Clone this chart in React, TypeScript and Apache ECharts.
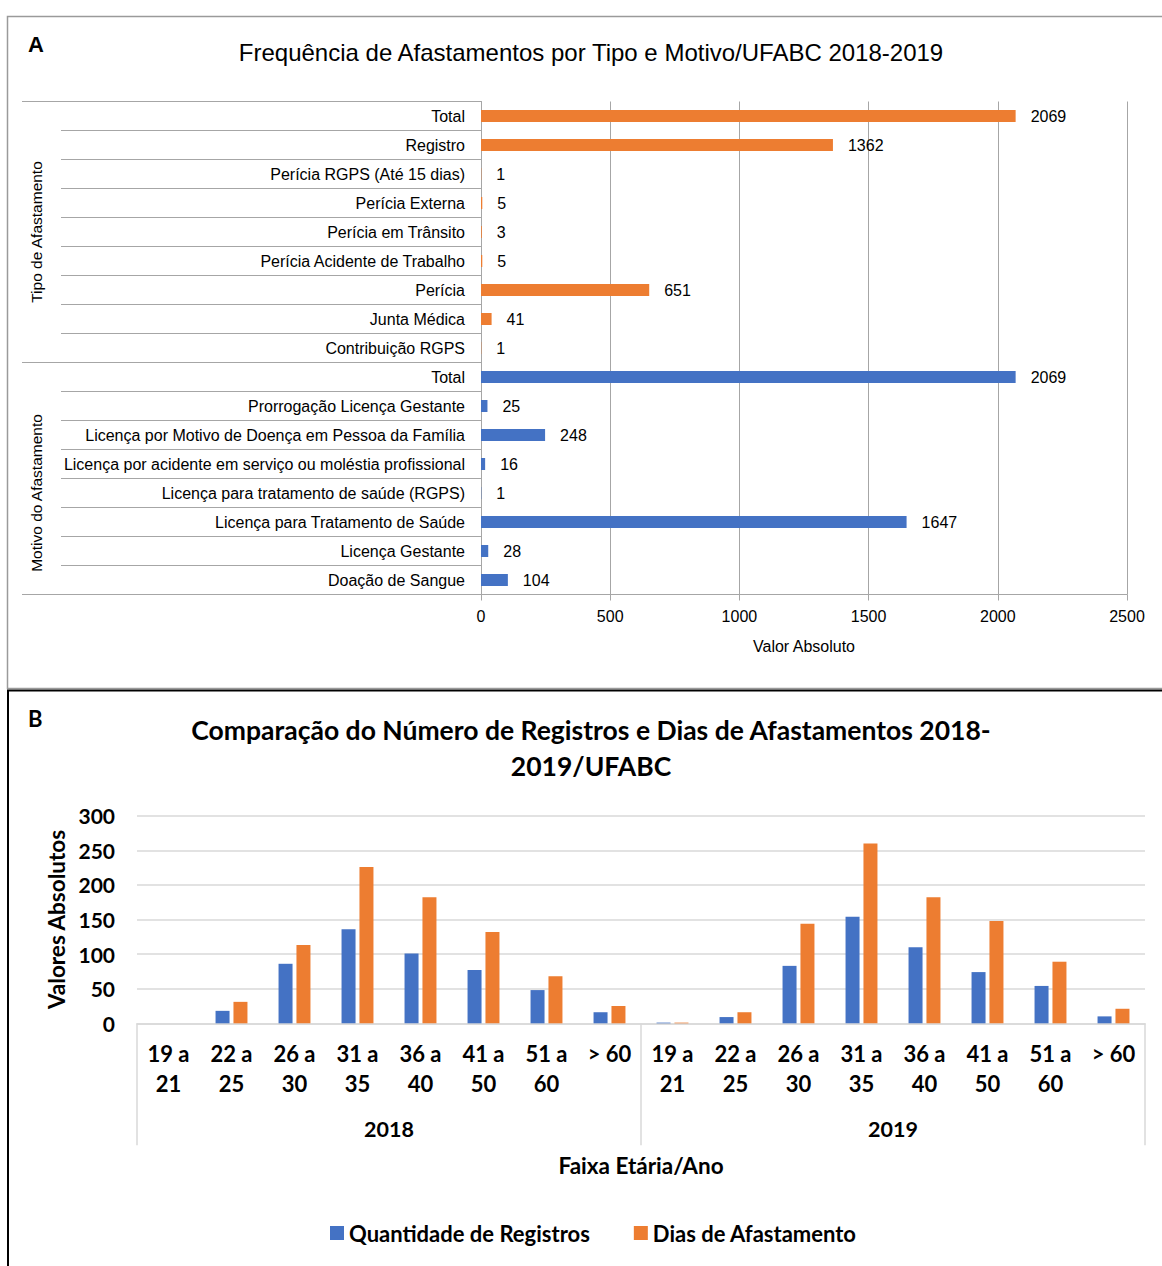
import React, { useEffect, useRef } from "react";
import * as echarts from "echarts";

// Panel A data
const tipoCats = [
  "Total",
  "Registro",
  "Perícia RGPS (Até 15 dias)",
  "Perícia Externa",
  "Perícia em Trânsito",
  "Perícia Acidente de Trabalho",
  "Perícia",
  "Junta Médica",
  "Contribuição RGPS",
];
const tipoValues = [2069, 1362, 1, 5, 3, 5, 651, 41, 1];
const motivoCats = [
  "Total",
  "Prorrogação Licença Gestante",
  "Licença por Motivo de Doença em Pessoa da Família",
  "Licença por acidente em serviço ou moléstia profissional",
  "Licença para tratamento de saúde (RGPS)",
  "Licença para Tratamento de Saúde",
  "Licença Gestante",
  "Doação de Sangue",
];
const motivoValues = [2069, 25, 248, 16, 1, 1647, 28, 104];
const groupNames = ["Tipo de Afastamento", "Motivo do Afastamento"];
const valueTicksA = [0, 500, 1000, 1500, 2000, 2500];

// Panel B data
const ageBands = ["19 a\n21", "22 a\n25", "26 a\n30", "31 a\n35", "36 a\n40", "41 a\n50", "51 a\n60", "> 60"];
const years = ["2018", "2019"];
const registros2018 = [0, 18, 86, 136, 101, 77, 48, 16];
const dias2018 = [0, 31, 113, 226, 182, 132, 68, 25];
const registros2019 = [1, 9, 83, 154, 110, 74, 54, 10];
const dias2019 = [1, 16, 144, 260, 182, 148, 89, 21];
const valueTicksB = [0, 50, 100, 150, 200, 250, 300];

const ORANGE = "#ED7D31";
const BLUE = "#4472C4";
const ARIAL = "Liberation Sans, Arial, sans-serif";
const CAL = "Lato, Carlito, Calibri, sans-serif";

export default function App() {
  const ref = useRef<HTMLDivElement>(null);
  useEffect(() => {
    if (!ref.current) return;
    const chart = echarts.init(ref.current, undefined, { renderer: "svg" });

    const catsA = [...tipoCats, ...motivoCats];
    const nT = tipoCats.length;
    const orangeData = catsA.map((_, i) => (i < nT ? tipoValues[i] : "-"));
    const blueData = catsA.map((_, i) => (i >= nT ? motivoValues[i - nT] : "-"));
    const groupLabelIdx = [Math.floor((nT - 1) / 2), nT + Math.ceil((motivoCats.length - 1) / 2)];

    const catsB = [...ageBands, ...ageBands];
    const regB = [...registros2018, ...registros2019];
    const diasB = [...dias2018, ...dias2019];

    const gridLineA = "#a6a6a6";
    const gridLineB = "#d9d9d9";

    chart.setOption({
      animation: false,
      backgroundColor: "#fff",
      title: [
        {
          text: "Frequência de Afastamentos por Tipo e Motivo/UFABC 2018-2019",
          left: 591,
          top: 40,
          padding: 0,
          textAlign: "center",
          textStyle: { fontFamily: ARIAL, fontSize: 24, fontWeight: "normal", color: "#000" },
        },
        {
          text: "A",
          left: 28,
          top: 33,
          padding: 0,
          textStyle: { fontFamily: ARIAL, fontSize: 22, fontWeight: "bold", color: "#000" },
        },
        {
          text: "Comparação do Número de Registros e Dias de Afastamentos 2018-\n2019/UFABC",
          left: 591,
          top: 712,
          padding: 0,
          textAlign: "center",
          textStyle: { fontFamily: CAL, fontSize: 26.5, fontWeight: "bold", color: "#000", lineHeight: 36 },
        },
        {
          text: "B",
          left: 28,
          top: 707,
          padding: 0,
          textStyle: { fontFamily: CAL, fontSize: 22, fontWeight: "bold", color: "#000" },
        },
      ],
      legend: {
        data: ["Quantidade de Registros", "Dias de Afastamento"],
        left: 330,
        top: 1222,
        padding: 0,
        icon: "rect",
        itemWidth: 14,
        itemHeight: 14,
        itemGap: 44,
        textStyle: { fontFamily: CAL, fontSize: 22, fontWeight: "bold", color: "#000" },
      },
      grid: [
        { left: 481, top: 101.5, width: 646, height: 493, outerBoundsMode: "none", containLabel: false },
        { left: 137, top: 815.7, width: 1008, height: 207.6, outerBoundsMode: "none", containLabel: false },
      ],
      xAxis: [
        {
          type: "value",
          gridIndex: 0,
          min: valueTicksA[0],
          max: valueTicksA[valueTicksA.length - 1],
          interval: valueTicksA[1] - valueTicksA[0],
          position: "bottom",
          name: "Valor Absoluto",
          nameLocation: "middle",
          nameGap: 44,
          nameTextStyle: { fontFamily: ARIAL, fontSize: 16, color: "#000" },
          axisLine: { show: true, lineStyle: { color: gridLineA, width: 1 } },
          axisTick: { show: true, length: 6, lineStyle: { color: gridLineA } },
          axisLabel: {
            margin: 14,
            fontFamily: ARIAL,
            fontSize: 16,
            color: "#000",
            formatter: (v: number) => String(v),
          },
          splitLine: { show: true, lineStyle: { color: gridLineA, width: 1 } },
        },
        {
          type: "category",
          gridIndex: 1,
          data: catsB,
          position: "bottom",
          axisLine: { show: true, lineStyle: { color: gridLineB, width: 1.5 } },
          axisTick: { show: false },
          axisLabel: {
            interval: 0,
            margin: 15,
            fontFamily: CAL,
            fontSize: 22,
            fontWeight: "bold",
            color: "#000",
            lineHeight: 30,
          },
          splitLine: { show: false },
        },
        {
          type: "category",
          gridIndex: 1,
          data: years,
          position: "bottom",
          name: "Faixa Etária/Ano",
          nameLocation: "middle",
          nameGap: 131,
          nameTextStyle: { fontFamily: CAL, fontSize: 22.5, fontWeight: "bold", color: "#000" },
          axisLine: { show: false },
          axisTick: { show: true, length: 122, interval: 0, lineStyle: { color: gridLineB, width: 1.5 } },
          axisLabel: { interval: 0, margin: 95, fontFamily: CAL, fontSize: 21.5, fontWeight: "bold", color: "#000" },
          splitLine: { show: false },
        },
      ],
      yAxis: [
        {
          type: "category",
          gridIndex: 0,
          data: catsA,
          inverse: true,
          position: "left",
          axisLine: { show: true, onZero: false, lineStyle: { color: gridLineA, width: 1 } },
          axisTick: { show: true, interval: 0, length: 420, lineStyle: { color: gridLineA, width: 1 } },
          axisLabel: { interval: 0, margin: 16, fontFamily: ARIAL, fontSize: 16, color: "#000" },
          splitLine: { show: false },
        },
        {
          type: "category",
          gridIndex: 0,
          data: catsA,
          inverse: true,
          position: "left",
          axisLine: { show: false },
          axisTick: {
            show: true,
            interval: (i: number) => i === 0 || i === nT,
            length: 459,
            lineStyle: { color: gridLineA, width: 1 },
          },
          axisLabel: {
            interval: (i: number) => i === groupLabelIdx[0] || i === groupLabelIdx[1],
            formatter: (_v: string, i: number) =>
              i === groupLabelIdx[0] ? groupNames[0] : i === groupLabelIdx[1] ? groupNames[1] : "",
            rotate: 90,
            margin: 437,
            fontFamily: ARIAL,
            fontSize: 15.5,
            color: "#000",
          },
          splitLine: { show: false },
        },
        {
          type: "value",
          gridIndex: 1,
          min: valueTicksB[0],
          max: valueTicksB[valueTicksB.length - 1],
          interval: valueTicksB[1] - valueTicksB[0],
          name: "Valores Absolutos",
          nameLocation: "middle",
          nameGap: 68,
          nameTextStyle: { fontFamily: CAL, fontSize: 22.5, fontWeight: "bold", color: "#000" },
          axisLine: { show: false },
          axisTick: { show: false },
          axisLabel: { margin: 22, fontFamily: CAL, fontSize: 21, fontWeight: "bold", color: "#000" },
          splitLine: { show: true, lineStyle: { color: gridLineB, width: 1.5 } },
        },
      ],
      series: [
        {
          name: "Tipo",
          type: "bar",
          xAxisIndex: 0,
          yAxisIndex: 0,
          data: orangeData,
          barWidth: 12,
          barGap: "-100%",
          itemStyle: { color: ORANGE },
          label: {
            show: true,
            position: "right",
            distance: 15,
            fontFamily: ARIAL,
            fontSize: 16,
            color: "#000",
          },
        },
        {
          name: "Motivo",
          type: "bar",
          xAxisIndex: 0,
          yAxisIndex: 0,
          data: blueData,
          barWidth: 12,
          barGap: "-100%",
          itemStyle: { color: BLUE },
          label: {
            show: true,
            position: "right",
            distance: 15,
            fontFamily: ARIAL,
            fontSize: 16,
            color: "#000",
          },
        },
        {
          name: "Quantidade de Registros",
          type: "bar",
          xAxisIndex: 1,
          yAxisIndex: 2,
          data: regB,
          barWidth: 14,
          barGap: "28%",
          itemStyle: { color: BLUE },
        },
        {
          name: "Dias de Afastamento",
          type: "bar",
          xAxisIndex: 1,
          yAxisIndex: 2,
          data: diasB,
          barWidth: 14,
          barGap: "28%",
          itemStyle: { color: ORANGE },
        },
      ],
      graphic: [
        {
          type: "rect",
          silent: true,
          z: 100,
          shape: { x: 7.5, y: 16.5, width: 1200, height: 672 },
          style: { fill: "none", stroke: "#9a9a9a", lineWidth: 1.5 },
        },
        {
          type: "rect",
          silent: true,
          z: 101,
          shape: { x: 8, y: 690.5, width: 1200, height: 620 },
          style: { fill: "none", stroke: "#000", lineWidth: 2 },
        },
      ],
    });
    return () => chart.dispose();
  }, []);
  return (
    <div
      ref={ref}
      style={{ position: "absolute", left: 0, top: 0, width: 1162, height: 1266, background: "#fff" }}
    />
  );
}
